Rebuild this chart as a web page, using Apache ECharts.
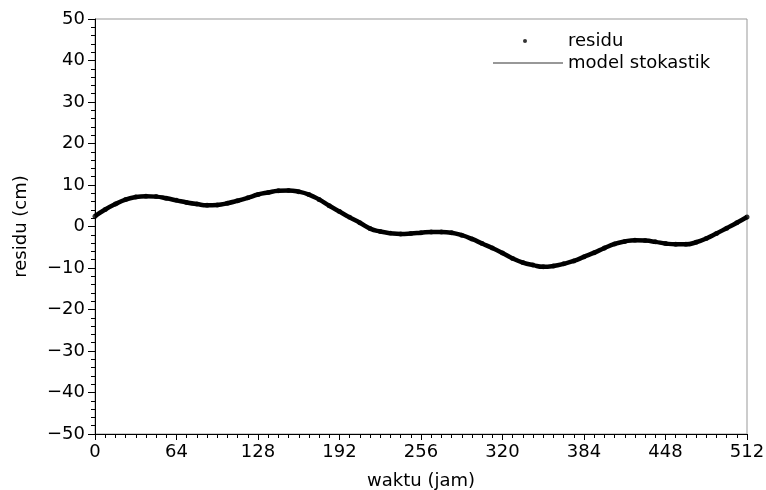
<!DOCTYPE html>
<html>
<head>
<meta charset="utf-8">
<script src="https://cdn.jsdelivr.net/npm/echarts@6/dist/echarts.min.js"></script>
<style>
  html, body { margin: 0; padding: 0; background: #fff; }
  #chart { width: 766px; height: 490px; }
</style>
</head>
<body>
<div id="chart"></div>
<script>
// jam (waktu), setiap 8 jam
var hours = [0, 8, 16, 24, 32, 40, 48, 56, 64, 72, 80, 88, 96, 104, 112, 120,
  128, 136, 144, 152, 160, 168, 176, 184, 192, 200, 208, 216, 224, 232, 240, 248,
  256, 264, 272, 280, 288, 296, 304, 312, 320, 328, 336, 344, 352, 360, 368, 376,
  384, 392, 400, 408, 416, 424, 432, 440, 448, 456, 464, 472, 480, 488, 496, 504, 512]
// residu (cm)
var residu = [2.5, 4.1, 5.4, 6.5, 7.1, 7.3, 7.2, 6.8, 6.3, 5.8, 5.4, 5.1, 5.2, 5.6, 6.2, 6.9,
  7.7, 8.2, 8.6, 8.7, 8.4, 7.7, 6.5, 5.0, 3.6, 2.2, 0.9, -0.5, -1.2, -1.6, -1.8, -1.7,
  -1.5, -1.3, -1.3, -1.5, -2.1, -3.0, -4.1, -5.2, -6.4, -7.7, -8.7, -9.3, -9.7, -9.5, -9.0, -8.3,
  -7.3, -6.3, -5.2, -4.2, -3.6, -3.3, -3.4, -3.7, -4.1, -4.3, -4.3, -3.8, -2.9, -1.7, -0.4, 0.9, 2.3]
// model stokastik mengikuti residu
var model = residu.slice()
var xTicks = { min: 0, max: 512, interval: 64 }
var yTicks = { min: -50, max: 50, interval: 10 }

var font = 'DejaVu Sans'
var minus = function (v) { return String(v).replace('-', '\u2212') }

var chart = echarts.init(document.getElementById('chart'))
chart.setOption({
  animation: false,
  textStyle: { fontFamily: font },
  grid: {
    left: 95, right: 19, top: 19, bottom: 56,
    outerBoundsMode: 'none', containLabel: false,
    show: true, borderColor: '#999', borderWidth: 1
  },
  legend: [
    {
      data: [{ name: 'residu', icon: 'circle' }],
      left: 518, top: 27,
      itemWidth: 4, itemHeight: 4,
      textStyle: { fontFamily: font, fontSize: 18, color: '#000', padding: [0, 0, 0, 36] }
    },
    {
      data: [{ name: 'model stokastik', icon: 'rect' }],
      left: 488, top: 49,
      itemWidth: 70, itemHeight: 1,
      itemStyle: { color: '#333' },
      textStyle: { fontFamily: font, fontSize: 18, color: '#000', padding: [0, 0, 0, 0] }
    }
  ],
  xAxis: {
    type: 'value',
    min: xTicks.min, max: xTicks.max, interval: xTicks.interval,
    name: 'waktu (jam)', nameLocation: 'middle', nameGap: 38,
    nameTextStyle: { fontFamily: font, fontSize: 18, color: '#000' },
    axisLine: { onZero: false, lineStyle: { color: '#000', width: 1 } },
    axisTick: { length: 6, lineStyle: { color: '#000' } },
    minorTick: { show: true, splitNumber: 8, length: 4, lineStyle: { color: '#000' } },
    splitLine: { show: false },
    axisLabel: { fontFamily: font, fontSize: 18, color: '#000', margin: 9 }
  },
  yAxis: {
    type: 'value',
    min: yTicks.min, max: yTicks.max, interval: yTicks.interval,
    name: 'residu (cm)', nameLocation: 'middle', nameGap: 65,
    nameTextStyle: { fontFamily: font, fontSize: 18, color: '#000' },
    axisLine: { show: true, onZero: false, lineStyle: { color: '#000', width: 1 } },
    axisTick: { show: true, length: 7, lineStyle: { color: '#000' } },
    minorTick: { show: true, splitNumber: 5, length: 4, lineStyle: { color: '#000' } },
    splitLine: { show: false },
    axisLabel: { fontFamily: font, fontSize: 18, color: '#000', margin: 10, formatter: minus }
  },
  series: [
    {
      name: 'model stokastik',
      type: 'line',
      smooth: true,
      symbol: 'none',
      lineStyle: { color: '#000', width: 4.5 },
      itemStyle: { color: '#333' },
      data: hours.map(function (h, i) { return [h, model[i]] })
    },
    {
      name: 'residu',
      type: 'scatter',
      symbol: 'circle',
      symbolSize: 5,
      itemStyle: { color: '#000' },
      data: hours.map(function (h, i) { return [h, residu[i]] })
    }
  ]
})
</script>
</body>
</html>
